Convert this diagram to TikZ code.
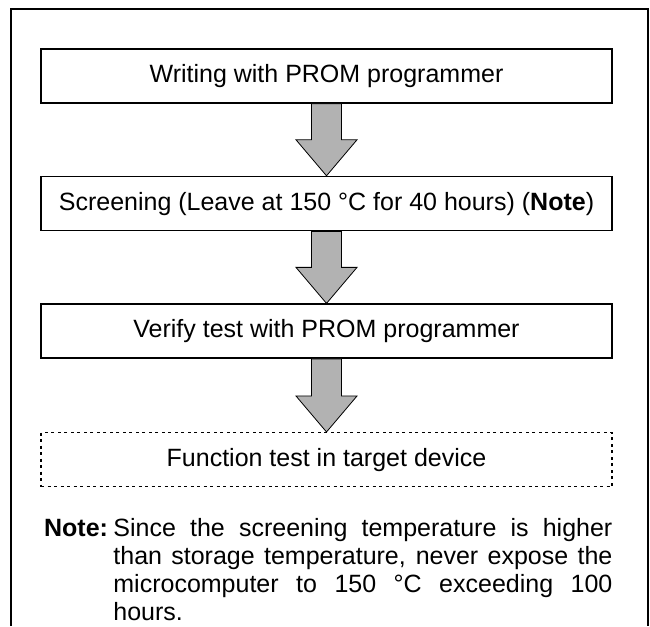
\documentclass[tikz,border=0pt]{standalone}
\usepackage{fontspec}
\setmainfont{Liberation Sans}
\usetikzlibrary{positioning}

\begin{document}
\begin{tikzpicture}[
      x=1pt, y=1pt,
      node distance=72pt,
      box/.style={draw, line width=1.6pt, fill=white, minimum height=54pt, minimum width=571pt, align=center, font=\fontsize{25}{28}\selectfont},
      optional/.style={box, dash pattern=on 3pt off 3.5pt, line width=1.2pt},
      blockarrow/.style={draw=black, line width=0.8pt, fill=black!30, line join=miter},
      notetext/.style={text width=499pt, align=justify, inner sep=0pt, font=\fontsize{25}{28}\selectfont},
      frame/.style={line width=1.8pt}
    ]
    \useasboundingbox (0,0) rectangle (650,626);
    \draw[frame] (11,0) -- (11,617) -- (648,617) -- (648,0);

    \node[box] (write) at (326.5,550) {Writing with PROM programmer};
    \node[box, below=of write] (screen) {Screening (Leave at 150~°C for 40 hours) (\textbf{Note})};
    \node[box, below=of screen] (verify) {Verify test with PROM programmer};
    \node[optional, below=73pt of verify] (func) {Function test in target device};

    \draw[blockarrow] ([xshift=-15pt]write.south) |- ([xshift=-30.5pt,yshift=36pt]screen.north) -- (screen.north) -- ([xshift=30.5pt,yshift=36pt]screen.north) -| ([xshift=15pt]write.south) -- cycle;
    \draw[blockarrow] ([xshift=-15pt]screen.south) |- ([xshift=-30.5pt,yshift=36pt]verify.north) -- (verify.north) -- ([xshift=30.5pt,yshift=36pt]verify.north) -| ([xshift=15pt]screen.south) -- cycle;
    \draw[blockarrow] ([xshift=-15pt]verify.south) |- ([xshift=-30.5pt,yshift=36pt]func.north) -- (func.north) -- ([xshift=30.5pt,yshift=36pt]func.north) -| ([xshift=15pt]verify.south) -- cycle;

    \node[notetext, below left=31pt and 0pt of func.south east] (note) {Since the screening temperature is higher\linebreak than storage temperature, never expose the\linebreak microcomputer to 150~°C exceeding 100\linebreak hours.};
    \node[inner sep=0pt, font=\fontsize{25}{28}\selectfont\bfseries, base left=5pt of note] (notelabel) {Note:};
  \end{tikzpicture}
\end{document}
